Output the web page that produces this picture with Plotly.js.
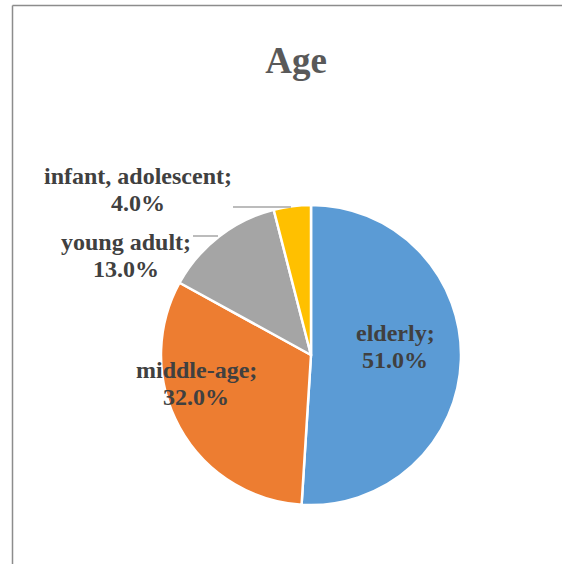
<!DOCTYPE html>
<html>
<head>
<meta charset="utf-8">
<script src="https://cdn.plot.ly/plotly-3.0.1.min.js"></script>
<style>
html,body{margin:0;padding:0;background:#fff;}
#chart{width:562px;height:564px;}
</style>
</head>
<body>
<div id="chart"></div>
<script>
const categories = ['elderly', 'middle-age', 'young adult', 'infant, adolescent'];
const values = [51.0, 32.0, 13.0, 4.0];
const colors = ['#5B9BD5', '#ED7D31', '#A5A5A5', '#FFC000'];
const chartTitle = 'Age';

const W = 562, H = 564;
const px = x => x / W;
const py = y => 1 - y / H;

// label block positions (pixels) for each category: [x centre, y of first line]
const labelPos = [[395, 333], [196, 370], [126, 242], [138, 176]];
const lineGap = 27;
const labelFont = {family: 'Liberation Serif, Times New Roman, serif', size: 24, color: '#404040', weight: 'bold'};

const total = values.reduce((a, b) => a + b, 0);
const annotations = [];
categories.forEach((c, i) => {
  const [lx, ly] = labelPos[i];
  annotations.push({xref: 'paper', yref: 'paper', x: px(lx), y: py(ly), xanchor: 'center', yanchor: 'middle',
    text: c + ';', showarrow: false, font: labelFont});
  annotations.push({xref: 'paper', yref: 'paper', x: px(lx), y: py(ly + lineGap), xanchor: 'center', yanchor: 'middle',
    text: (values[i] / total * 100).toFixed(1) + '%', showarrow: false, font: labelFont});
});

const cx = 311, cy = 355, r = 150;

const data = [{
  type: 'pie',
  labels: categories,
  values: values,
  sort: false,
  direction: 'clockwise',
  rotation: 0,
  textinfo: 'none',
  hoverinfo: 'label+percent',
  marker: {colors: colors, line: {color: '#ffffff', width: 2.5}},
  domain: {x: [px(cx - r), px(cx + r)], y: [py(cy + r), py(cy - r)]},
  showlegend: false
}];

const leader = {color: '#A6A6A6', width: 1.5};
const layout = {
  width: W, height: H,
  margin: {l: 0, r: 0, t: 0, b: 0},
  paper_bgcolor: '#ffffff',
  showlegend: false,
  title: {
    text: chartTitle,
    x: px(296), xanchor: 'center',
    y: py(60), yanchor: 'middle',
    font: {family: 'Liberation Serif, Times New Roman, serif', size: 37, color: '#595959', weight: 'bold'}
  },
  annotations: annotations,
  shapes: [
    {type: 'line', xref: 'paper', yref: 'paper', x0: px(233), x1: px(291), y0: py(207), y1: py(207), line: leader},
    {type: 'line', xref: 'paper', yref: 'paper', x0: px(193), x1: px(218), y0: py(236), y1: py(236), line: leader},
    {type: 'line', xref: 'paper', yref: 'paper', x0: px(12.5), x1: 1, y0: py(5.5), y1: py(5.5), line: {color: '#8C8C8C', width: 1.5}},
    {type: 'line', xref: 'paper', yref: 'paper', x0: px(12.5), x1: px(12.5), y0: py(5.5), y1: 0, line: {color: '#8C8C8C', width: 1.5}}
  ]
};

Plotly.newPlot('chart', data, layout, {displayModeBar: false, staticPlot: true});
</script>
</body>
</html>
